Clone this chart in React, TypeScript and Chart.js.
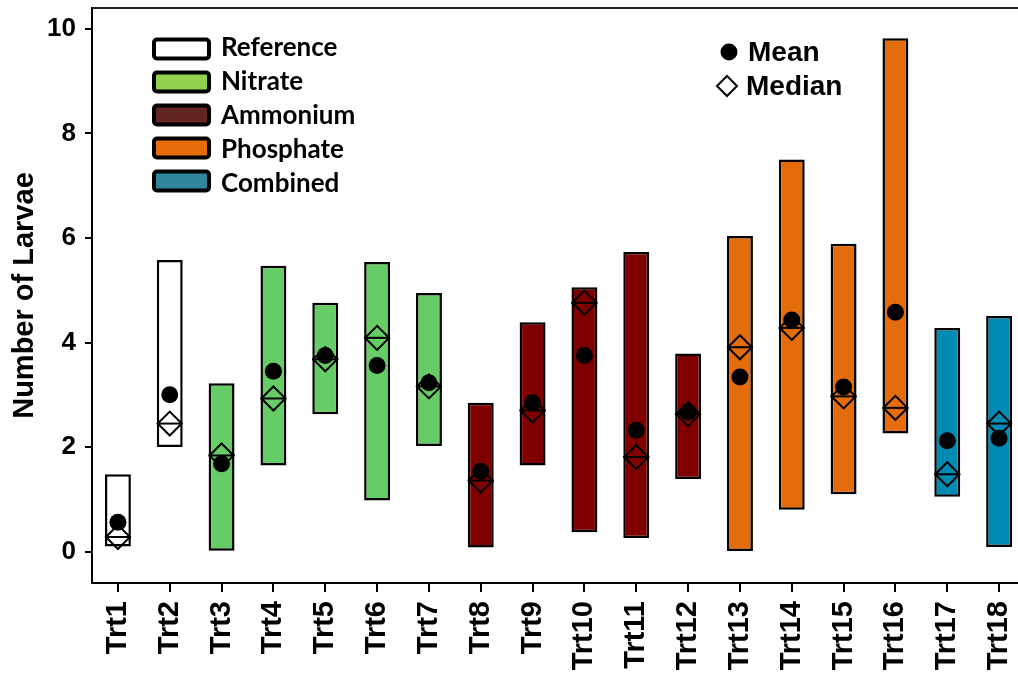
import React, { useEffect, useRef } from "react";
import { Chart, registerables } from "chart.js";

Chart.register(...registerables);

// Treatments and their groups
const treatments = [
  "Trt1", "Trt2", "Trt3", "Trt4", "Trt5", "Trt6", "Trt7", "Trt8", "Trt9",
  "Trt10", "Trt11", "Trt12", "Trt13", "Trt14", "Trt15", "Trt16", "Trt17", "Trt18",
];
const groups = [
  "Reference", "Reference",
  "Nitrate", "Nitrate", "Nitrate", "Nitrate", "Nitrate",
  "Ammonium", "Ammonium", "Ammonium", "Ammonium", "Ammonium",
  "Phosphate", "Phosphate", "Phosphate", "Phosphate",
  "Combined", "Combined",
];

// Range (min / max), mean and median number of larvae per treatment
const minValues = [0.1, 2.0, 0.0, 1.65, 2.63, 0.98, 2.02, 0.08, 1.65, 0.37, 0.26, 1.39, 0.01, 0.8, 1.1, 2.26, 1.05, 0.09];
const maxValues = [1.48, 5.58, 3.22, 5.47, 4.76, 5.54, 4.95, 2.85, 4.39, 5.06, 5.73, 3.79, 6.04, 7.5, 5.89, 9.82, 4.28, 4.51];
const meanValues = [0.56, 3.0, 1.68, 3.45, 3.75, 3.56, 3.23, 1.54, 2.85, 3.75, 2.32, 2.67, 3.34, 4.43, 3.15, 4.58, 2.12, 2.17];
const medianValues = [0.28, 2.45, 1.84, 2.93, 3.68, 4.09, 3.16, 1.36, 2.7, 4.76, 1.81, 2.63, 3.91, 4.28, 2.97, 2.75, 1.48, 2.45];

const yTicks = [0, 2, 4, 6, 8, 10];

// Group legend entries
const groupNames = ["Reference", "Nitrate", "Ammonium", "Phosphate", "Combined"];
const barColors: Record<string, string> = {
  Reference: "#FFFFFF",
  Nitrate: "#66CC66",
  Ammonium: "#800000",
  Phosphate: "#E46C0A",
  Combined: "#008BB5",
};
const legendColors: Record<string, string> = {
  Reference: "#FFFFFF",
  Nitrate: "#92D050",
  Ammonium: "#632523",
  Phosphate: "#E46C0A",
  Combined: "#31859C",
};

const AXIS_FONT = "'Liberation Sans', Arial, sans-serif";

const legendPlugin = {
  id: "customLegends",
  afterDraw(chart: Chart) {
    const ctx = chart.ctx;
    const area = chart.chartArea;
    ctx.save();

    // frame line along the top of the plot
    ctx.strokeStyle = "#222";
    ctx.lineWidth = 2;
    ctx.beginPath();
    ctx.moveTo(area.left, area.top);
    ctx.lineTo(area.right, area.top);
    ctx.stroke();

    // group legend
    groupNames.forEach((name, i) => {
      const cy = 49 + i * 33;
      ctx.beginPath();
      ctx.roundRect(154, cy - 9.5, 55, 19, 3);
      ctx.fillStyle = legendColors[name];
      ctx.fill();
      ctx.lineWidth = 4;
      ctx.strokeStyle = "#000";
      ctx.stroke();
      ctx.fillStyle = "#000";
      ctx.font = "bold 26px Lato, 'Open Sans', sans-serif";
      ctx.textAlign = "left";
      ctx.textBaseline = "middle";
      ctx.fillText(name, 221, cy - 1 + i * 0.8);
    });

    // statistic legend
    ctx.fillStyle = "#000";
    ctx.beginPath();
    ctx.arc(729, 52, 8.5, 0, Math.PI * 2);
    ctx.fill();

    ctx.beginPath();
    ctx.moveTo(717, 86);
    ctx.lineTo(727, 76);
    ctx.lineTo(737, 86);
    ctx.lineTo(727, 96);
    ctx.closePath();
    ctx.lineWidth = 2;
    ctx.strokeStyle = "#000";
    ctx.stroke();

    ctx.font = `bold 28px ${AXIS_FONT}`;
    ctx.textAlign = "left";
    ctx.textBaseline = "middle";
    ctx.fillText("Mean", 748, 53);
    ctx.fillText("Median", 746, 87);

    ctx.restore();
  },
};

export default function App() {
  const canvasRef = useRef<HTMLCanvasElement | null>(null);

  useEffect(() => {
    const canvas = canvasRef.current;
    if (!canvas) return;

    const chart = new Chart(canvas, {
      type: "bar",
      data: {
        labels: treatments,
        datasets: [
          {
            type: "line",
            label: "Mean",
            data: meanValues,
            showLine: false,
            pointStyle: "circle",
            pointRadius: 8.5,
            pointBackgroundColor: "#000",
            pointBorderWidth: 0,
            order: 1,
          },
          {
            type: "line",
            label: "Median",
            data: medianValues,
            showLine: false,
            pointStyle: "rectRot",
            pointRadius: 12,
            pointBackgroundColor: "rgba(0,0,0,0)",
            pointBorderColor: "#000",
            pointBorderWidth: 2,
            order: 2,
          },
          {
            type: "line",
            label: "Median line",
            data: medianValues,
            showLine: false,
            pointStyle: "line",
            pointRadius: 13,
            pointBorderColor: "#000",
            pointBorderWidth: 2,
            order: 2,
          },
          {
            type: "bar",
            label: "Range",
            data: minValues.map((v, i) => [v, maxValues[i]]),
            backgroundColor: groups.map((g) => barColors[g]),
            borderColor: "#000",
            borderWidth: 2.5,
            borderSkipped: false,
            categoryPercentage: 1,
            barPercentage: 0.5,
            order: 3,
          },
        ],
      },
      options: {
        responsive: false,
        animation: false,
        devicePixelRatio: 1,
        events: [],
        layout: { autoPadding: false, padding: { top: 8, left: 0, right: 35, bottom: 0 } },
        plugins: {
          legend: { display: false },
          tooltip: { enabled: false },
        },
        scales: {
          x: {
            type: "category",
            offset: true,
            afterFit(scale: any) {
              scale.height = 90;
              scale.paddingLeft = 0;
              scale.paddingRight = 0;
            },
            border: { display: true, color: "#000", width: 2 },
            grid: {
              offset: false,
              drawOnChartArea: false,
              drawTicks: true,
              tickLength: 9,
              color: "#000",
              lineWidth: 2,
            },
            ticks: {
              autoSkip: false,
              minRotation: 90,
              maxRotation: 90,
              padding: 9,
              color: "#000",
              font: { family: AXIS_FONT, size: 29, weight: "bold" },
            },
          },
          y: {
            type: "linear",
            min: -0.6,
            max: 10.4,
            afterFit(scale: any) {
              scale.width = 92;
              scale.paddingTop = 0;
              scale.paddingBottom = 0;
            },
            afterBuildTicks(scale: any) {
              scale.ticks = yTicks.map((v) => ({ value: v }));
            },
            border: { display: true, color: "#000", width: 2 },
            grid: {
              drawOnChartArea: false,
              drawTicks: true,
              tickLength: 7,
              color: "#000",
              lineWidth: 2,
            },
            ticks: {
              padding: 9,
              color: "#000",
              font: { family: AXIS_FONT, size: 26, weight: "bold" },
            },
            title: {
              display: true,
              text: "Number of Larvae",
              color: "#000",
              padding: { top: 8, bottom: 0 },
              font: { family: AXIS_FONT, size: 29, weight: "bold" },
            },
          },
        },
      },
      plugins: [legendPlugin],
    });

    return () => chart.destroy();
  }, []);

  return (
    <div
      style={{
        position: "fixed",
        left: 0,
        top: 0,
        width: 1018,
        height: 673,
        overflow: "hidden",
        background: "#fff",
      }}
    >
      <canvas
        ref={canvasRef}
        width={1060}
        height={673}
        style={{ width: 1060, height: 673, display: "block" }}
      />
    </div>
  );
}
